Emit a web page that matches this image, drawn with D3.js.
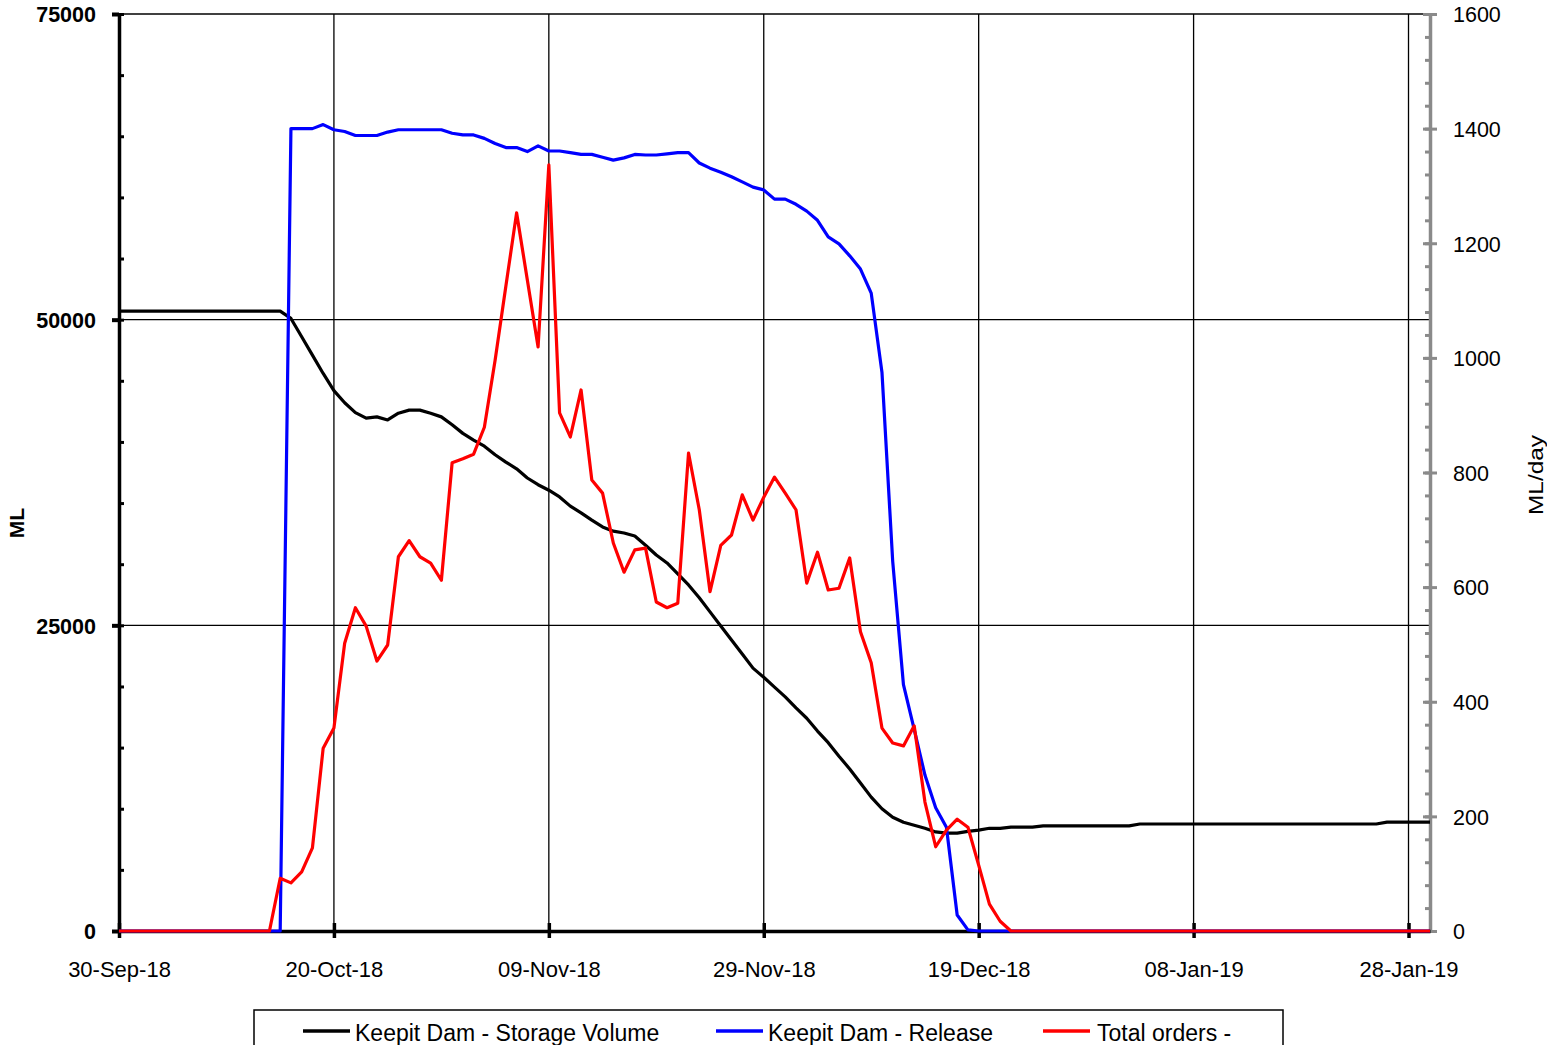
<!DOCTYPE html>
<html>
<head>
<meta charset="utf-8">
<script src="https://cdn.jsdelivr.net/npm/d3@7"></script>
<style>
  body { margin: 0; background: #fff; }
  svg { display: block; font-family: Arial, "Liberation Sans", sans-serif; }
</style>
</head>
<body>
<div id="chart"></div>
<script>
// daily values, day 0 = 30-Sep-18
var startDate = Date.UTC(2018, 8, 30);

var storage = [
  50700, 50700, 50700, 50700, 50700, 50700, 50700, 50700, 50700, 50700,
  50700, 50700, 50700, 50700, 50700, 50700, 50100, 48600, 47100, 45600,
  44200, 43200, 42400, 41950, 42050, 41800, 42350, 42600, 42600, 42350,
  42050, 41400, 40700, 40150, 39650, 38950, 38350, 37800, 37050, 36500,
  36050, 35500, 34750, 34200, 33600, 33050, 32700, 32550, 32300, 31550,
  30750, 30100, 29200, 28300, 27250, 26100, 24950, 23800, 22650, 21500,
  20750, 19950, 19150, 18250, 17400, 16350, 15400, 14300, 13250, 12100,
  10950, 10000, 9300, 8900, 8650, 8400, 8100, 8000, 8000, 8150,
  8250, 8400, 8400, 8500, 8500, 8500, 8600, 8600, 8600, 8600,
  8600, 8600, 8600, 8600, 8600, 8750, 8750, 8750, 8750, 8750,
  8750, 8750, 8750, 8750, 8750, 8750, 8750, 8750, 8750, 8750,
  8750, 8750, 8750, 8750, 8750, 8750, 8750, 8750, 8900, 8900,
  8900, 8900, 8900
];

var release = [
  0, 0, 0, 0, 0, 0, 0, 0, 0, 0,
  0, 0, 0, 0, 0, 0, 1400, 1400, 1400, 1407,
  1398, 1395, 1388, 1388, 1388, 1394, 1398, 1398, 1398, 1398,
  1398, 1392, 1389, 1389, 1383, 1374, 1367, 1367, 1360, 1370,
  1361, 1361, 1358, 1355, 1355, 1350, 1345, 1349, 1355, 1354,
  1354, 1356, 1358, 1358, 1340, 1331, 1324, 1316, 1307, 1298,
  1293, 1277, 1277, 1268, 1256, 1240, 1211, 1199, 1178, 1155,
  1113, 975, 645, 430, 352, 272, 215, 181, 28, 2,
  0, 0, 0, 0, 0, 0, 0, 0, 0, 0,
  0, 0, 0, 0, 0, 0, 0, 0, 0, 0,
  0, 0, 0, 0, 0, 0, 0, 0, 0, 0,
  0, 0, 0, 0, 0, 0, 0, 0, 0, 0,
  0, 0, 0
];

var orders = [
  0, 0, 0, 0, 0, 0, 0, 0, 0, 0,
  0, 0, 0, 0, 0, 92, 84, 103, 145, 319,
  354, 502, 564, 532, 471, 499, 653, 681, 653, 642,
  612, 817, 824, 832, 879, 996, 1125, 1253, 1136, 1019,
  1337, 904, 862, 944, 787, 764, 677, 626, 665, 668,
  574, 564, 572, 834, 735, 592, 673, 691, 761, 717,
  757, 792, 764, 735, 607, 661, 595, 598, 651, 522,
  468, 354, 328, 323, 358, 225, 147, 176, 195, 181,
  115, 47, 17, 0, 0, 0, 0, 0, 0, 0,
  0, 0, 0, 0, 0, 0, 0, 0, 0, 0,
  0, 0, 0, 0, 0, 0, 0, 0, 0, 0,
  0, 0, 0, 0, 0, 0, 0, 0, 0, 0,
  0, 0, 0
];

var leftTicks = [0, 25000, 50000, 75000];
var rightTicks = [0, 200, 400, 600, 800, 1000, 1200, 1400, 1600];
var xTickDays = [0, 20, 40, 60, 80, 100, 120];
var seriesNames = ["Keepit Dam - Storage Volume", "Keepit Dam - Release", "Total orders -"];

var width = 1547, height = 1045;
var plotLeft = 119, plotRight = 1430, plotTop = 14, plotBottom = 931;

var svg = d3.select("#chart").append("svg")
  .attr("width", width)
  .attr("height", height);

var dayDate = function(i) { return d3.utcDay.offset(new Date(startDate), i); };

var x = d3.scaleUtc()
  .domain([dayDate(0), dayDate(122)])
  .range([plotLeft, plotRight]);
var yL = d3.scaleLinear().domain([0, 75000]).range([plotBottom, plotTop]);
var yR = d3.scaleLinear().domain([0, 1600]).range([plotBottom, plotTop]);

// grid
var grid = svg.append("g");
grid.selectAll("line.h")
  .data(leftTicks.slice(1))
  .enter().append("line")
  .attr("x1", plotLeft).attr("x2", plotRight)
  .attr("y1", function(d) { return yL(d); })
  .attr("y2", function(d) { return yL(d); })
  .attr("stroke", "#000").attr("stroke-width", 1.3);
grid.selectAll("line.v")
  .data(xTickDays.slice(1))
  .enter().append("line")
  .attr("x1", function(d) { return x(dayDate(d)); })
  .attr("x2", function(d) { return x(dayDate(d)); })
  .attr("y1", plotTop).attr("y2", plotBottom)
  .attr("stroke", "#000").attr("stroke-width", 1.3);

// left axis
var minorL = d3.range(0, 75001, 5000);
svg.append("g")
  .attr("transform", "translate(" + plotLeft + ",0)")
  .call(d3.axisRight(yL).tickValues(minorL).tickSize(5).tickFormat(""))
  .call(function(g) { g.select(".domain").remove(); g.selectAll("line").attr("stroke-width", 3); });
var axL = svg.append("g")
  .attr("transform", "translate(" + plotLeft + ",0)")
  .call(d3.axisLeft(yL).tickValues(leftTicks).tickFormat(d3.format("d"))
    .tickSize(7).tickSizeOuter(0).tickPadding(16));
axL.select(".domain").attr("stroke-width", 3.5);
axL.selectAll("line").attr("stroke-width", 4);
axL.selectAll("text")
  .attr("font-size", "21.5px").attr("font-weight", "bold")
  .attr("font-family", "Arial, 'Liberation Sans', sans-serif")
  .attr("fill", "#000").attr("dy", "0.36em");

// right axis
var grey = "#8a8a8a";
var minorR = d3.range(0, 1601, 40);
svg.append("g")
  .attr("transform", "translate(" + plotRight + ",0)")
  .call(d3.axisLeft(yR).tickValues(minorR).tickSize(5).tickFormat(""))
  .call(function(g) { g.select(".domain").remove(); g.selectAll("line").attr("stroke", grey).attr("stroke-width", 3); });
svg.append("g")
  .attr("transform", "translate(" + plotRight + ",0)")
  .call(d3.axisLeft(yR).tickValues(rightTicks).tickSize(7).tickFormat(""))
  .call(function(g) { g.select(".domain").remove(); g.selectAll("line").attr("stroke", grey).attr("stroke-width", 3); });
var axR = svg.append("g")
  .attr("transform", "translate(" + plotRight + ",0)")
  .call(d3.axisRight(yR).tickValues(rightTicks).tickFormat(d3.format("d"))
    .tickSize(7).tickSizeOuter(0).tickPadding(16));
axR.select(".domain").attr("stroke", grey).attr("stroke-width", 3.5);
axR.selectAll("line").attr("stroke", grey).attr("stroke-width", 3);
axR.selectAll("text")
  .attr("font-size", "21.5px")
  .attr("font-family", "Arial, 'Liberation Sans', sans-serif")
  .attr("fill", "#000").attr("dy", "0.36em");

// bottom axis
var axB = svg.append("g")
  .attr("transform", "translate(0," + plotBottom + ")")
  .call(d3.axisBottom(x)
    .tickValues(xTickDays.map(dayDate))
    .tickFormat(d3.utcFormat("%d-%b-%y"))
    .tickSize(7).tickSizeOuter(0));
axB.select(".domain").attr("stroke-width", 3.5);
axB.selectAll(".tick line").attr("y1", -8).attr("stroke-width", 3.5);
axB.selectAll("text")
  .attr("font-size", "22px")
  .attr("font-family", "Arial, 'Liberation Sans', sans-serif")
  .attr("fill", "#000").attr("y", 46).attr("dy", 0);

// series
var lineL = d3.line()
  .x(function(d, i) { return x(dayDate(i)); })
  .y(function(d) { return yL(d); });
var lineR = d3.line()
  .x(function(d, i) { return x(dayDate(i)); })
  .y(function(d) { return yR(d); });

svg.append("path").datum(storage)
  .attr("d", lineL).attr("fill", "none")
  .attr("stroke", "#000").attr("stroke-width", 3.2).attr("stroke-linejoin", "round");
svg.append("path").datum(release)
  .attr("d", lineR).attr("fill", "none")
  .attr("stroke", "#0000ff").attr("stroke-width", 3.2).attr("stroke-linejoin", "round");
svg.append("path").datum(orders)
  .attr("d", lineR).attr("fill", "none")
  .attr("stroke", "#ff0000").attr("stroke-width", 3.2).attr("stroke-linejoin", "round");

// axis titles
svg.append("text")
  .attr("transform", "translate(24,523) rotate(-90)")
  .attr("text-anchor", "middle")
  .attr("font-size", "21px").attr("font-weight", "bold")
  .text("ML");
svg.append("text")
  .attr("transform", "translate(1543,475) rotate(-90)")
  .attr("text-anchor", "middle")
  .attr("font-size", "20px")
  .attr("textLength", 80).attr("lengthAdjust", "spacingAndGlyphs")
  .text("ML/day");

// legend
var legend = svg.append("g");
legend.append("rect")
  .attr("x", 254).attr("y", 1010).attr("width", 1029).attr("height", 60)
  .attr("fill", "#fff").attr("stroke", "#000").attr("stroke-width", 1.5);
var legendX = [303, 716, 1043];
var legendColors = ["#000", "#0000ff", "#ff0000"];
var items = legend.selectAll("g.item")
  .data(seriesNames)
  .enter().append("g")
  .attr("transform", function(d, i) { return "translate(" + legendX[i] + ",1031)"; });
items.append("line")
  .attr("x1", 0).attr("x2", 47)
  .attr("stroke", function(d, i) { return legendColors[i]; })
  .attr("stroke-width", 3.5);
items.append("text")
  .attr("x", function(d, i) { return i === 2 ? 54 : 52; })
  .attr("y", 10)
  .attr("font-size", "23px")
  .attr("fill", "#000")
  .text(function(d) { return d; });
</script>
</body>
</html>
